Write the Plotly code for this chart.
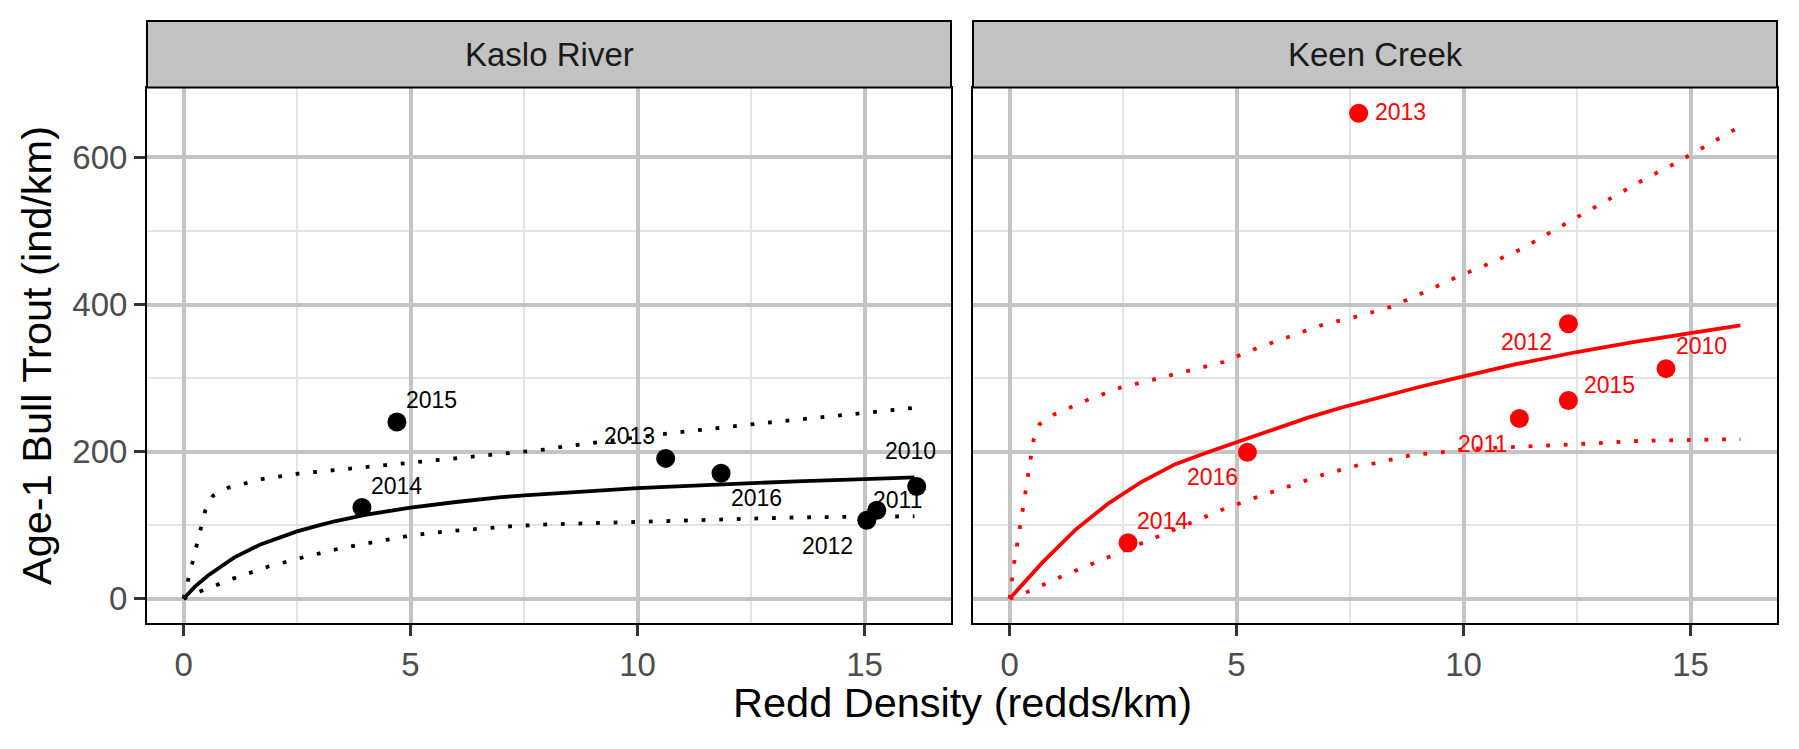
import plotly.graph_objects as go

# ---------------- data ----------------
panels = ["Kaslo River", "Keen Creek"]

kaslo_years = ["2010", "2011", "2012", "2013", "2014", "2015", "2016"]
kaslo_x = [16.15, 15.27, 15.05, 10.62, 3.93, 4.70, 11.84]
kaslo_y = [152.6, 120.3, 106.7, 190.8, 124.0, 240.3, 170.7]

keen_years = ["2010", "2011", "2012", "2013", "2014", "2015", "2016"]
keen_x = [14.46, 11.23, 12.31, 7.69, 2.61, 12.31, 5.24]
keen_y = [312.8, 245.0, 373.8, 660.0, 76.0, 269.5, 199.0]

# fitted curve (solid) and bounds (dotted)
kaslo_fit_x = [0, 0.25, 0.54, 1.12, 1.71, 2.5, 3.0, 3.33, 4.0, 4.43, 5.0, 6.0, 6.63, 7.0, 7.51, 8.1, 9.0,
               10, 11, 12.5, 13.5, 15, 16.1]
kaslo_fit_y = [0, 16.5, 31.6, 56.2, 74.2, 91.5, 100, 105.3, 114, 118.8, 124, 131.5, 136, 138, 140.6, 143.2, 147,
               150.3, 153.2, 157.3, 159.6, 162.5, 165]
kaslo_up_x = [0, 0.11, 0.29, 0.48, 0.65, 0.99, 1.75, 2.52, 3.69, 4.87, 6.03, 7.2, 8.0, 8.36, 10.7, 12.65, 15, 16.1]
kaslo_up_y = [0, 26, 73, 120, 140, 151, 163, 170, 177, 184, 191, 198, 203, 206.7, 224.8, 238, 252, 259.5]
kaslo_lo_x = [0, 0.40, 1.12, 1.87, 2.64, 3.40, 4.17, 4.94, 5.72, 6.48, 7.27, 8.06, 10, 11.98, 13.52, 15.87, 16.1]
kaslo_lo_y = [0, 10.8, 28, 43.8, 56.4, 67.7, 76.7, 85.3, 91.2, 95.2, 98.8, 101.1, 104.7, 108.3, 110.6, 111.9, 112]

keen_fit_x = [0, 0.71, 1.45, 2.18, 2.91, 3.65, 4.38, 5.0, 5.85, 6.59, 7.32, 8.05, 9.0, 10, 11.13, 12.5, 13.7,
              15, 16.1]
keen_fit_y = [0, 48.4, 93.6, 129.7, 159, 183, 199.5, 213, 231, 246.5, 260, 272, 287.5, 302.4, 318.5, 335.4, 348.5,
              361.1, 371.5]
keen_up_x = [0, 0.10, 0.29, 0.46, 0.53, 0.66, 0.99, 1.70, 2.44, 3.19, 3.94, 4.71, 5.45, 6.15, 6.92, 7.69, 8.02,
             8.41, 9.13, 9.85, 10.57, 11.28, 11.96, 12.63, 13.32, 14.0, 14.69, 15.38, 16.06]
keen_up_y = [0, 48.4, 120.7, 194, 216.5, 237.3, 250.8, 269.8, 287, 298.3, 309.6, 321.8, 340.8, 355.7, 372.9, 384.2, 389.6,
             396.9, 416.6, 437.3, 455.7, 475.5, 499.8, 523.6, 547, 570.8, 592.8, 616.6, 640.9]
keen_lo_x = [0, 0.38, 1.12, 1.85, 2.58, 3.28, 4.02, 4.74, 5.48, 6.22, 6.95, 7.69, 8.04, 8.85, 9.63, 10.0, 10.84,
             12.38, 13.93, 15.91, 16.1]
keen_lo_y = [0, 9, 29.4, 48.4, 67.3, 85.4, 104.9, 122.5, 138.8, 154.1, 169.5, 181.7, 184, 195.3, 199.8, 203.4, 205.2,
             209.7, 214.7, 216.5, 217]

x_ticks = [0, 5, 10, 15]
y_ticks = [0, 200, 400, 600]

# label offsets in pixels (dx right, dy down) — style, not data
kaslo_off = {"2010": (-6, -35), "2011": (21, -10), "2012": (-39, 26), "2013": (-36, -22),
             "2014": (35, -22), "2015": (35, -22), "2016": (35, 25)}
keen_off = {"2010": (35, -23), "2011": (-37, 25), "2012": (-42, 18), "2013": (42, -1),
            "2014": (34, -22), "2015": (41, -15), "2016": (-35, 25)}

FONT = "Liberation Sans, Arial, Helvetica, sans-serif"
RED = "#FF0000"
LW = 3.8
DOT = "3.8px,13.8px"

fig = go.Figure()

def add_panel(xa, ya, fx, fy, ux, uy, lx, ly, px, py, col):
    fig.add_trace(go.Scatter(x=ux, y=uy, mode="lines", xaxis=xa, yaxis=ya,
                             line=dict(color=col, width=LW, dash=DOT), hoverinfo="skip"))
    fig.add_trace(go.Scatter(x=lx, y=ly, mode="lines", xaxis=xa, yaxis=ya,
                             line=dict(color=col, width=LW, dash=DOT), hoverinfo="skip"))
    fig.add_trace(go.Scatter(x=fx, y=fy, mode="lines", xaxis=xa, yaxis=ya,
                             line=dict(color=col, width=LW), hoverinfo="skip"))
    fig.add_trace(go.Scatter(x=px, y=py, mode="markers", xaxis=xa, yaxis=ya,
                             marker=dict(color=col, size=19, line=dict(width=0))))

add_panel("x", "y", kaslo_fit_x, kaslo_fit_y, kaslo_up_x, kaslo_up_y, kaslo_lo_x, kaslo_lo_y,
          kaslo_x, kaslo_y, "#000000")
add_panel("x2", "y2", keen_fit_x, keen_fit_y, keen_up_x, keen_up_y, keen_lo_x, keen_lo_y,
          keen_x, keen_y, RED)

annotations = []
for yr, xv, yv in zip(kaslo_years, kaslo_x, kaslo_y):
    dx, dy = kaslo_off[yr]
    annotations.append(dict(x=xv, y=yv, xref="x", yref="y", text=yr, showarrow=False,
                            xshift=dx, yshift=-dy, font=dict(family=FONT, size=23, color="#000000")))
for yr, xv, yv in zip(keen_years, keen_x, keen_y):
    dx, dy = keen_off[yr]
    annotations.append(dict(x=xv, y=yv, xref="x2", yref="y2", text=yr, showarrow=False,
                            xshift=dx, yshift=-dy, font=dict(family=FONT, size=23, color=RED)))

W, H = 1799, 749
ML, MR, MT, MB = 147, 22, 21, 126
plot_h = H - MT - MB
plot_w = W - ML - MR
ydom_top = (H - MB - 87.5) / plot_h
left_dom = [0, 804 / plot_w]
right_dom = [826 / plot_w, 1]

shapes = []
for xa, name in (("x", panels[0]), ("x2", panels[1])):
    shapes.append(dict(type="rect", xref=f"{xa} domain", yref="paper", x0=0, x1=1,
                       y0=ydom_top, y1=1, fillcolor="#C3C3C3", line=dict(color="#000000", width=2),
                       layer="above"))
    annotations.append(dict(x=0.5, y=(ydom_top + 1) / 2, xref=f"{xa} domain", yref="paper",
                            text=name, showarrow=False, xanchor="center", yanchor="middle",
                            font=dict(family=FONT, size=33, color="#1A1A1A")))

# axis titles
annotations.append(dict(x=0.5, y=(H - MB - 702) / plot_h, xref="paper", yref="paper",
                        text="Redd Density (redds/km)", showarrow=False, xanchor="center", yanchor="middle",
                        font=dict(family=FONT, size=41.5, color="#000000")))
annotations.append(dict(x=(36 - ML) / plot_w, y=(H - MB - 356) / plot_h, xref="paper", yref="paper",
                        text="Age-1 Bull Trout (ind/km)", showarrow=False, textangle=-90,
                        xanchor="center", yanchor="middle",
                        font=dict(family=FONT, size=41.5, color="#000000")))

xcommon = dict(range=[-0.805, 16.905], tickvals=x_ticks, ticktext=[str(v) for v in x_ticks],
               ticks="outside", ticklen=11, tickwidth=3, tickcolor="#333333",
               tickfont=dict(family=FONT, size=33, color="#4D4D4D"),
               showgrid=True, gridcolor="#C4C4C4", gridwidth=3.5, zeroline=False,
               minor=dict(dtick=2.5, tick0=0, showgrid=True, gridcolor="#E3E3E3", gridwidth=2.2),
               showline=True, mirror=True, linecolor="#000000", linewidth=2, fixedrange=True)
ycommon = dict(range=[-33, 695], domain=[0, ydom_top], tickvals=y_ticks,
               showgrid=True, gridcolor="#C4C4C4", gridwidth=3.5, zeroline=False,
               minor=dict(dtick=100, tick0=0, showgrid=True, gridcolor="#E3E3E3", gridwidth=2.2),
               showline=True, mirror=True, linecolor="#000000", linewidth=2, fixedrange=True)

fig.update_layout(
    width=W, height=H,
    margin=dict(l=ML, r=MR, t=MT, b=MB, pad=0),
    paper_bgcolor="#FFFFFF", plot_bgcolor="#FFFFFF",
    showlegend=False,
    xaxis=dict(domain=left_dom, anchor="y", **xcommon),
    xaxis2=dict(domain=right_dom, anchor="y2", **xcommon),
    yaxis=dict(anchor="x", ticks="outside", ticklen=11, tickwidth=3, tickcolor="#333333",
               ticktext=[str(v) for v in y_ticks],
               tickfont=dict(family=FONT, size=33, color="#4D4D4D"), **ycommon),
    yaxis2=dict(anchor="x2", matches="y", showticklabels=False, ticks="", **ycommon),
    shapes=shapes,
    annotations=annotations,
)

fig.write_html("out.html", config={"displayModeBar": False},
               post_script="document.body.style.margin='0';document.body.style.padding='0';"
                           "document.body.style.overflow='hidden';")
